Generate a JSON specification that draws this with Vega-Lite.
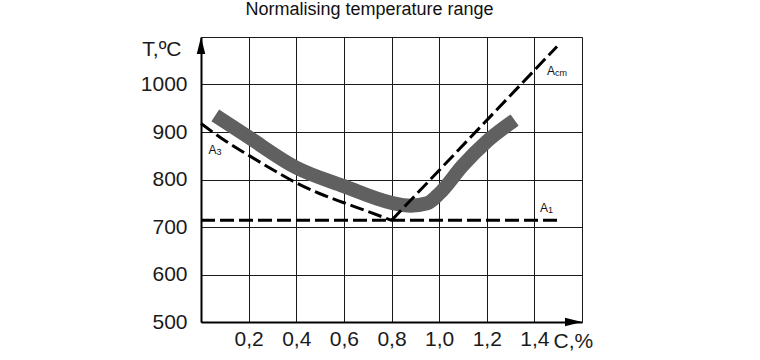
{
  "$schema": "https://vega.github.io/schema/vega-lite/v6.json",
  "width": 381,
  "height": 285,
  "autosize": {"type": "none"},
  "padding": {"left": 201, "top": 37, "right": 178, "bottom": 38},
  "background": "white",
  "title": {
    "text": "Normalising temperature range",
    "font": "Liberation Sans",
    "fontSize": 18,
    "fontWeight": "normal",
    "color": "#111",
    "anchor": "middle",
    "dx": -22,
    "baseline": "alphabetic",
    "offset": 4
  },
  "config": {
    "view": {"stroke": null},
    "axis": {
      "labelFont": "Liberation Sans",
      "titleFont": "Liberation Sans",
      "labelColor": "#1a1a1a",
      "titleColor": "#1a1a1a",
      "labelFontSize": 21,
      "titleFontSize": 21,
      "titleFontWeight": "normal",
      "grid": true,
      "gridColor": "#1a1a1a",
      "gridWidth": 1,
      "gridOpacity": 1,
      "domainColor": "#000",
      "domainWidth": 2,
      "ticks": false
    }
  },
  "datasets": {
    "a3": [
      {"c": 0.0, "t": 918}, {"c": 0.1, "t": 882}, {"c": 0.2, "t": 851},
      {"c": 0.3, "t": 821}, {"c": 0.4, "t": 793}, {"c": 0.5, "t": 770},
      {"c": 0.6, "t": 751}, {"c": 0.7, "t": 733}, {"c": 0.8, "t": 714}
    ],
    "a1": [{"c": 0.0, "t": 714}, {"c": 1.5, "t": 714}],
    "acm": [{"c": 0.8, "t": 714}, {"c": 1.495, "t": 1080}],
    "band": [
      {"c": 0.06, "t": 935}, {"c": 0.2, "t": 889}, {"c": 0.4, "t": 825},
      {"c": 0.6, "t": 786}, {"c": 0.8, "t": 751}, {"c": 0.88, "t": 745},
      {"c": 0.95, "t": 750}, {"c": 1.0, "t": 770}, {"c": 1.1, "t": 830},
      {"c": 1.2, "t": 880}, {"c": 1.317, "t": 925}
    ],
    "labels": [
      {"c": 0.031, "t": 854, "main": "A", "sub": "3"},
      {"c": 1.424, "t": 732, "main": "A", "sub": "1"},
      {"c": 1.453, "t": 1020, "main": "A", "sub": "cm"}
    ]
  },
  "encoding": {
    "x": {
      "field": "c",
      "type": "quantitative",
      "scale": {"domain": [0, 1.6], "nice": false, "zero": false},
      "axis": {
        "values": [0, 0.2, 0.4, 0.6, 0.8, 1.0, 1.2, 1.4, 1.6],
        "labelExpr": "datum.value < 0.1 || datum.value > 1.5 ? '' : replace(format(datum.value, '.1f'), '.', ',')",
        "labelPadding": 6,
        "title": "C,%",
        "titleAlign": "left",
        "titleAnchor": "start",
        "titleBaseline": "alphabetic",
        "titleX": 352,
        "titleY": 25
      }
    },
    "y": {
      "field": "t",
      "type": "quantitative",
      "scale": {"domain": [500, 1100], "nice": false, "zero": false},
      "axis": {
        "values": [500, 600, 700, 800, 900, 1000, 1100],
        "labelExpr": "datum.value > 1050 ? '' : format(datum.value, 'd')",
        "labelPadding": 14,
        "title": "T,ºC",
        "titleAngle": 0,
        "titleAlign": "right",
        "titleBaseline": "alphabetic",
        "titleX": -20,
        "titleY": 18
      }
    }
  },
  "layer": [
    {
      "data": {"name": "band"},
      "mark": {"type": "line", "color": "#606060", "strokeWidth": 14, "interpolate": "monotone", "strokeCap": "butt"}
    },
    {
      "data": {"name": "a3"},
      "mark": {"type": "line", "color": "#000", "strokeWidth": 3, "strokeDash": [14, 5], "interpolate": "monotone"}
    },
    {
      "data": {"name": "a1"},
      "mark": {"type": "line", "color": "#000", "strokeWidth": 3, "strokeDash": [14, 5]}
    },
    {
      "data": {"name": "acm"},
      "mark": {"type": "line", "color": "#000", "strokeWidth": 3, "strokeDash": [14, 5]}
    },
    {
      "data": {"name": "labels"},
      "mark": {"type": "text", "font": "Liberation Sans", "fontSize": 12, "align": "left", "baseline": "alphabetic", "color": "#111"},
      "encoding": {"text": {"field": "main"}}
    },
    {
      "data": {"name": "labels"},
      "mark": {"type": "text", "font": "Liberation Sans", "fontSize": 9, "align": "left", "baseline": "alphabetic", "dx": 8, "dy": 1, "color": "#111"},
      "encoding": {"text": {"field": "sub"}}
    },
    {
      "data": {"values": [{"c": 0, "t": 1100}]},
      "mark": {"type": "point", "shape": "M0,0L0.25,1L-0.25,1Z", "size": 1156, "filled": true, "color": "#000", "opacity": 1}
    },
    {
      "data": {"values": [{"c": 1.6, "t": 500}]},
      "mark": {"type": "point", "shape": "M0,0L-1,-0.25L-1,0.25Z", "size": 1156, "filled": true, "color": "#000", "opacity": 1}
    }
  ]
}
